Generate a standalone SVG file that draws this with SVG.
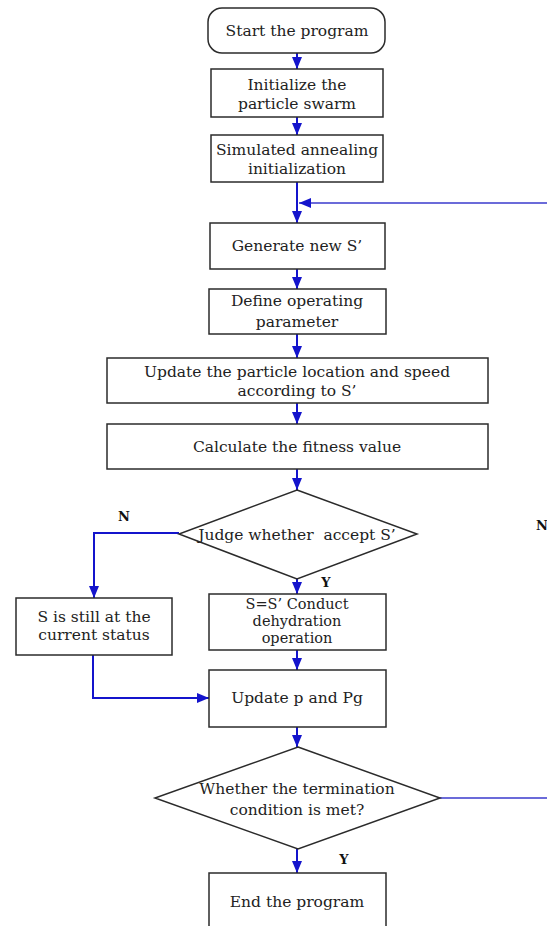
<svg xmlns="http://www.w3.org/2000/svg" width="547" height="926" viewBox="0 0 547 926">
<style>
.n rect,.n polygon{fill:#fff;stroke:#2b2b2b;stroke-width:1.5}
.t{font-family:"DejaVu Serif","Liberation Serif",serif;font-size:15.5px;fill:#222;text-anchor:middle}
.s{font-size:14.5px}
.l{font-family:"DejaVu Serif","Liberation Serif",serif;font-size:13px;font-weight:bold;fill:#111;text-anchor:middle}
.c path{fill:none;stroke:#1414cc;stroke-width:2}
.c path.thin{stroke:#3a3acc;stroke-width:1.5}
</style>
<defs>
<marker id="ah" markerUnits="userSpaceOnUse" markerWidth="12" markerHeight="12" viewBox="0 0 12 12" refX="12" refY="6" orient="auto">
<path d="M0,1 L12,6 L0,11 Z" fill="#1414cc"/>
</marker>
</defs>
<rect width="547" height="926" fill="#fff"/>
<g class="c" id="connectors">
<path d="M297,53 V69" marker-end="url(#ah)"/>
<path d="M297,117 V135" marker-end="url(#ah)"/>
<path d="M297,182 V223" marker-end="url(#ah)"/>
<path class="thin" d="M547,203 H299" marker-end="url(#ah)"/>
<path d="M297,269 V289" marker-end="url(#ah)"/>
<path d="M297,334 V358" marker-end="url(#ah)"/>
<path d="M297,403 V424" marker-end="url(#ah)"/>
<path d="M297,469 V490" marker-end="url(#ah)"/>
<path d="M179,533 H94 V598" marker-end="url(#ah)"/>
<path d="M297,579 V594" marker-end="url(#ah)"/>
<path d="M297,650 V670" marker-end="url(#ah)"/>
<path d="M93,655 V698 H209" marker-end="url(#ah)"/>
<path d="M297,727 V747" marker-end="url(#ah)"/>
<path class="thin" d="M440,798 H547"/>
<path d="M297,849 V873" marker-end="url(#ah)"/>
</g>
<g class="n" id="start"><rect x="208" y="8" width="177" height="45" rx="14"/><text class="t" x="297" y="36">Start the program</text></g>
<g class="n" id="init-swarm"><rect x="211" y="69" width="172" height="48"/><text class="t" x="297" y="90">Initialize the</text><text class="t" x="297" y="109">particle swarm</text></g>
<g class="n" id="sa-init"><rect x="211" y="135" width="172" height="47"/><text class="t" x="297" y="155">Simulated annealing</text><text class="t" x="297" y="174">initialization</text></g>
<g class="n" id="generate"><rect x="210" y="223" width="175" height="46"/><text class="t" x="297" y="251">Generate new S’</text></g>
<g class="n" id="define"><rect x="209" y="289" width="177" height="45"/><text class="t" x="297" y="306">Define operating</text><text class="t" x="297" y="327">parameter</text></g>
<g class="n" id="update-particle"><rect x="107" y="358" width="381" height="45"/><text class="t" x="297" y="377">Update the particle location and speed</text><text class="t" x="297" y="396">according to S’</text></g>
<g class="n" id="fitness"><rect x="107" y="424" width="381" height="45"/><text class="t" x="297" y="452">Calculate the fitness value</text></g>
<g class="n" id="judge"><polygon points="297,490 417,534 297,579 179,534"/><text class="t" x="297" y="540" style="white-space:pre">Judge whether  accept S’</text></g>
<g class="n" id="still"><rect x="16" y="598" width="156" height="57"/><text class="t" x="94" y="622">S is still at the</text><text class="t" x="94" y="640">current status</text></g>
<g class="n" id="conduct"><rect x="209" y="594" width="177" height="56"/><text class="t s" x="297" y="609">S=S’ Conduct</text><text class="t s" x="297" y="626">dehydration</text><text class="t s" x="297" y="643">operation</text></g>
<g class="n" id="update-p"><rect x="209" y="670" width="177" height="57"/><text class="t" x="297" y="703">Update p and Pg</text></g>
<g class="n" id="termination"><polygon points="298,747 440,798 298,849 155,798"/><text class="t" x="297" y="794">Whether the termination</text><text class="t" x="297" y="815">condition is met?</text></g>
<g class="n" id="end"><rect x="209" y="873" width="177" height="62"/><text class="t" x="297" y="907">End the program</text></g>
<g id="labels">
<text class="l" x="124" y="521">N</text>
<text class="l" x="542" y="530">N</text>
<text class="l" x="326" y="587">Y</text>
<text class="l" x="344" y="864">Y</text>
</g>
</svg>
